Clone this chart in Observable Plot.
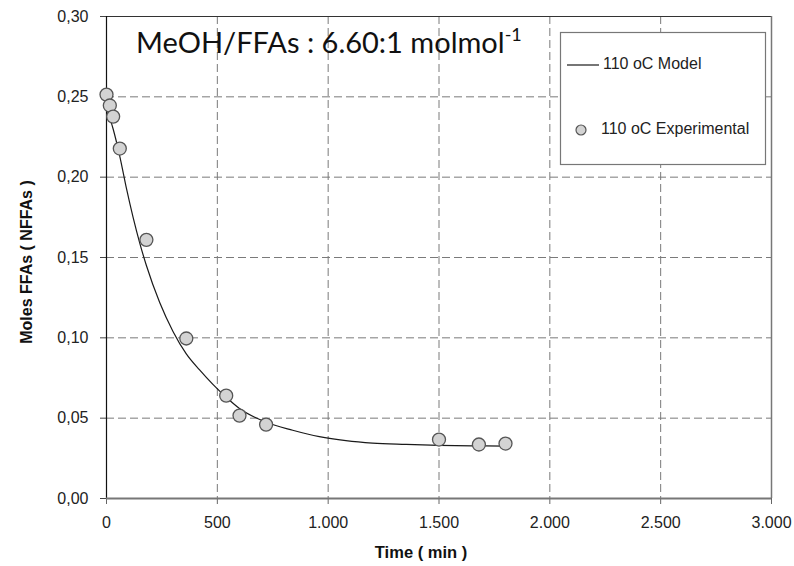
<!DOCTYPE html>
<html>
<head>
<meta charset="utf-8">
<script src="https://cdn.jsdelivr.net/npm/d3@7"></script>
<script src="https://cdn.jsdelivr.net/npm/@observablehq/plot@0.6"></script>
<style>
  html, body { margin: 0; padding: 0; background: #fff; }
  #chart svg { display: block; }
</style>
</head>
<body>
<div id="chart"></div>
<script>
// Experimental data (110 oC)
const expTimes = [0, 15, 30, 60, 180, 360, 540, 600, 720, 1500, 1680, 1800];
const expMoles = [0.2514, 0.2446, 0.2377, 0.2178, 0.161, 0.0996, 0.064, 0.0516, 0.046, 0.0367, 0.0336, 0.0342];

// Model curve (110 oC)
const modelTimes = [0, 30, 60, 90, 120, 150, 180, 240, 300, 360, 420, 480, 540, 600, 720, 840, 960, 1080, 1200, 1350, 1500, 1650, 1800];
const modelMoles = [0.243, 0.230, 0.213, 0.193, 0.175, 0.159, 0.145, 0.122, 0.104, 0.090, 0.080, 0.071, 0.063, 0.056, 0.0475, 0.0425, 0.0385, 0.036, 0.0345, 0.0337, 0.0331, 0.0328, 0.0326];

const xTicks = [0, 500, 1000, 1500, 2000, 2500, 3000];
const yTicks = [0, 0.05, 0.10, 0.15, 0.20, 0.25, 0.30];

const titleMain = "MeOH/FFAs : 6.60:1 molmol";
const titleSup = "-1";
const xTitle = "Time ( min )";
const yTitle = "Moles FFAs ( NFFAs )";
const legendModel = "110 oC Model";
const legendExp = "110 oC Experimental";

const loc = d3.formatLocale({decimal: ",", thousands: ".", grouping: [3], currency: ["", ""]});
const fmtX = loc.format(",d");
const fmtY = loc.format(".2f");

const expData = expTimes.map((t, i) => ({t, v: expMoles[i]}));
const modelData = modelTimes.map((t, i) => ({t, v: modelMoles[i]}));

const W = 794, H = 566;
const mL = 106, mR = 23, mT = 16, mB = 68;

const chart = Plot.plot({
  width: W, height: H,
  marginLeft: mL, marginRight: mR, marginTop: mT, marginBottom: mB,
  style: {fontFamily: "'Liberation Sans', Arial, sans-serif", fontSize: "16px", background: "#fff", color: "#222"},
  x: {domain: [0, 3000]},
  y: {domain: [0, 0.30]},
  marks: [
    Plot.gridX(xTicks.slice(1, -1), {stroke: "#7a7a7a", strokeOpacity: 1, strokeDasharray: "8,4", strokeWidth: 1}),
    Plot.gridY(yTicks.slice(1, -1), {stroke: "#7a7a7a", strokeOpacity: 1, strokeDasharray: "8,4", strokeWidth: 1}),
    Plot.axisX({ticks: xTicks, tickFormat: fmtX, tickSize: 6, tickPadding: 12, stroke: "#666", label: null, fill: "#222"}),
    Plot.axisY({ticks: yTicks, tickFormat: fmtY, tickSize: 6, tickPadding: 12, stroke: "#444", label: null, fill: "#222"}),
    Plot.ruleY([0.30], {stroke: "#333", strokeWidth: 1.2}),
    Plot.ruleX([3000], {stroke: "#777", strokeWidth: 1.5}),
    Plot.ruleX([0], {stroke: "#111", strokeWidth: 1.2}),
    Plot.ruleY([0], {stroke: "#777", strokeWidth: 2}),
    Plot.line(modelData, {x: "t", y: "v", curve: "monotone-x", stroke: "#1a1a1a", strokeWidth: 1.2}),
    Plot.dot(expData, {x: "t", y: "v", r: 6.5, fill: "#d3d3d3", stroke: "#555", strokeWidth: 1.3})
  ]
});

document.getElementById("chart").appendChild(chart);

const svg = d3.select(chart);

// Annotation title with superscript
const tt = svg.append("text")
  .attr("x", 136).attr("y", 53)
  .attr("text-anchor", "start")
  .attr("font-family", "Lato, 'Open Sans', sans-serif")
  .attr("font-size", 29)
  .attr("fill", "#111");
tt.append("tspan").text(titleMain);
tt.append("tspan").attr("font-size", 18).attr("dy", -12).text(titleSup);

// Axis titles
svg.append("text")
  .attr("x", 421).attr("y", 554)
  .attr("text-anchor", "middle").attr("dominant-baseline", "middle")
  .attr("font-family", "'Liberation Sans', Arial, sans-serif")
  .attr("font-weight", "bold").attr("font-size", 16.5).attr("fill", "#111")
  .text(xTitle);

svg.append("text")
  .attr("transform", "translate(28,262) rotate(-90)")
  .attr("text-anchor", "middle").attr("dominant-baseline", "middle")
  .attr("font-family", "'Liberation Sans', Arial, sans-serif")
  .attr("font-weight", "bold").attr("font-size", 16).attr("fill", "#111")
  .text(yTitle);

// Legend
const lg = svg.append("g").attr("text-anchor", "start");
lg.append("rect").attr("x", 560.5).attr("y", 32.5).attr("width", 205).attr("height", 132)
  .attr("fill", "#fff").attr("stroke", "#777").attr("stroke-width", 1.2);
lg.append("line").attr("x1", 567).attr("x2", 599).attr("y1", 65).attr("y2", 65)
  .attr("stroke", "#1a1a1a").attr("stroke-width", 1.2);
lg.append("text").attr("x", 603).attr("y", 65).attr("dominant-baseline", "middle")
  .attr("font-family", "'Liberation Sans', Arial, sans-serif").attr("font-size", 16).attr("fill", "#222")
  .text(legendModel);
lg.append("circle").attr("cx", 581).attr("cy", 130).attr("r", 5)
  .attr("fill", "#d3d3d3").attr("stroke", "#555").attr("stroke-width", 1.2);
lg.append("text").attr("x", 601).attr("y", 130).attr("dominant-baseline", "middle")
  .attr("font-family", "'Liberation Sans', Arial, sans-serif").attr("font-size", 16).attr("fill", "#222")
  .text(legendExp);
</script>
</body>
</html>
